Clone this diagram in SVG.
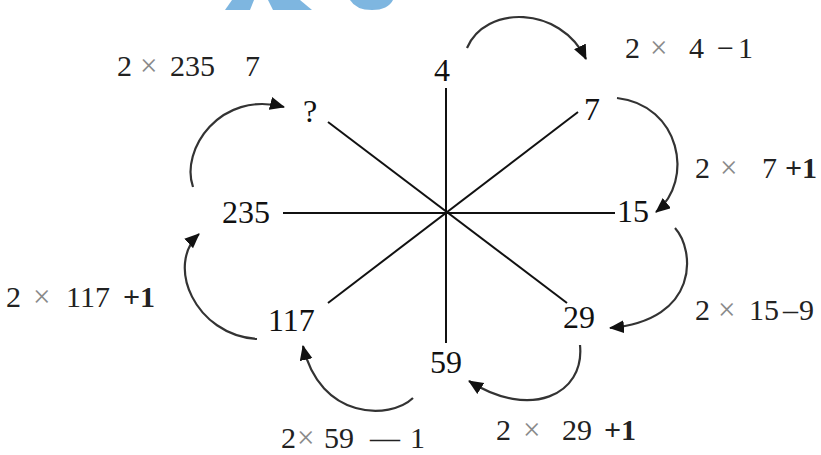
<svg xmlns="http://www.w3.org/2000/svg" width="821" height="455" viewBox="0 0 821 455">
<style>
.n{font-family:"Liberation Serif","Times New Roman",serif;font-size:32px;fill:#111}
.f{font-family:"Liberation Serif","Times New Roman",serif;font-size:30px;fill:#222}
.x{fill:#8a8a8a;font-size:31px}
.b{font-weight:bold}
.spoke{stroke:#111;stroke-width:2;fill:none}
.arc{stroke:#333;stroke-width:2.2;fill:none;marker-end:url(#ah)}
.wm{fill:#7eb6e0}
</style>
<defs>
<marker id="ah" markerUnits="userSpaceOnUse" markerWidth="16" markerHeight="14" refX="14" refY="6.5" orient="auto">
<path d="M0,0 L15,6.5 L0,13 z" fill="#111"/>
</marker>
</defs>
<rect width="821" height="455" fill="#fff"/>
<g id="watermark">
<polygon class="wm" points="232,0 254,0 250,10 225,10"/>
<polygon class="wm" points="268,0 300,0 312,10 273,10"/>
<path class="wm" d="M350,0 L393,0 Q388,10 372,10 Q356,10 350,0 z"/>
</g>
<g id="connectors">
<line class="spoke" x1="446" y1="88" x2="446" y2="343"/>
<line class="spoke" x1="283" y1="213" x2="615" y2="213"/>
<line class="spoke" x1="328" y1="122" x2="567" y2="303"/>
<line class="spoke" x1="578" y1="112" x2="328" y2="303"/>
<path class="arc" d="M467,48 C485,5 560,5 586,59"/>
<path class="arc" d="M617,98 C680,105 695,180 656,212"/>
<path class="arc" d="M675,228 C695,250 700,320 610,328"/>
<path class="arc" d="M580,345 C585,395 530,420 469,381"/>
<path class="arc" d="M413,398 C390,420 320,420 303,346"/>
<path class="arc" d="M257,339 C195,335 165,265 199,234"/>
<path class="arc" d="M193,187 C180,150 220,90 284,107"/>
</g>
<g id="n4"><text class="n" x="434" y="81">4</text></g>
<g id="n7"><text class="n" x="584" y="120">7</text></g>
<g id="n15"><text class="n" x="617" y="222">15</text></g>
<g id="n29"><text class="n" x="563" y="328">29</text></g>
<g id="n59"><text class="n" x="430" y="373">59</text></g>
<g id="n117"><text class="n" x="268" y="331">117</text></g>
<g id="n235"><text class="n" x="222" y="223">235</text></g>
<g id="nq"><text class="n" x="303" y="122">?</text></g>
<g id="labels">
<text class="f" y="76"><tspan x="117">2</tspan><tspan class="x" x="140">×</tspan><tspan x="170">235</tspan><tspan x="245">7</tspan></text>
<text class="f" y="58"><tspan x="625">2</tspan><tspan class="x" x="650">×</tspan><tspan x="689">4</tspan><tspan x="717">−</tspan><tspan x="738">1</tspan></text>
<text class="f" y="178"><tspan x="695">2</tspan><tspan class="x" x="720">×</tspan><tspan x="762">7</tspan><tspan class="b" x="785">+1</tspan></text>
<text class="f" y="320"><tspan x="695">2</tspan><tspan class="x" x="718">×</tspan><tspan x="749">15</tspan><tspan x="783">–</tspan><tspan x="799">9</tspan></text>
<text class="f" y="440"><tspan x="496">2</tspan><tspan class="x" x="523">×</tspan><tspan x="562">29</tspan><tspan class="b" x="604">+1</tspan></text>
<text class="f" y="448"><tspan x="281">2</tspan><tspan class="x" x="297">×</tspan><tspan x="324">59</tspan><tspan x="370">—</tspan><tspan x="410">1</tspan></text>
<text class="f" y="307"><tspan x="6">2</tspan><tspan class="x" x="33">×</tspan><tspan x="66">117</tspan><tspan class="b" x="123">+1</tspan></text>
</g>
</svg>
